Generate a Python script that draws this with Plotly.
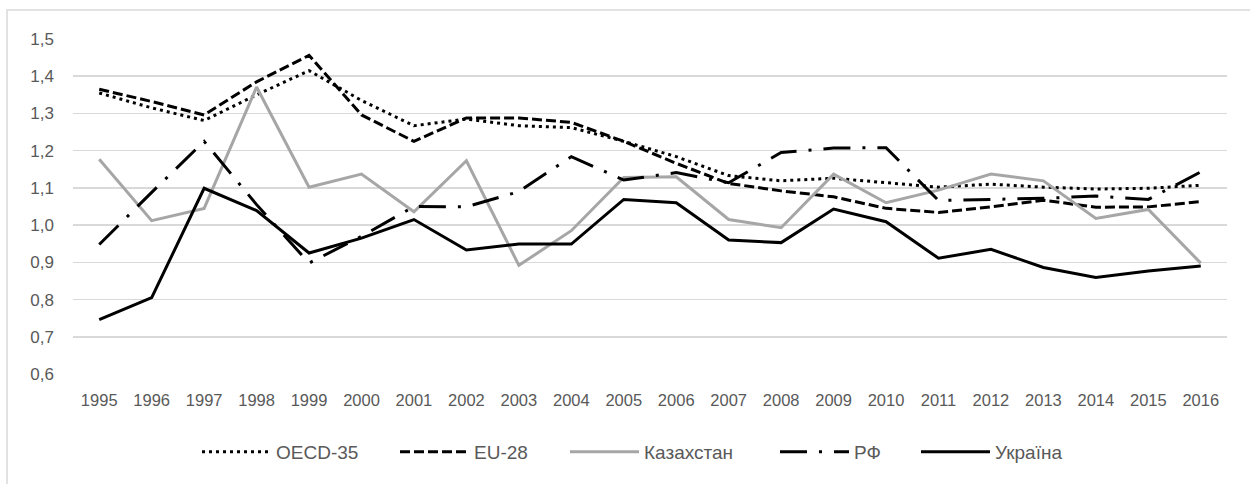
import plotly.graph_objects as go

years = list(range(1995, 2017))
oecd = [1.355, 1.315, 1.281, 1.350, 1.415, 1.335, 1.267, 1.285, 1.267, 1.262, 1.225,
        1.184, 1.133, 1.119, 1.126, 1.114, 1.102, 1.110, 1.102, 1.097, 1.099, 1.107]
eu = [1.365, 1.332, 1.296, 1.385, 1.456, 1.296, 1.225, 1.288, 1.288, 1.276, 1.225,
      1.166, 1.112, 1.092, 1.076, 1.045, 1.034, 1.049, 1.067, 1.048, 1.049, 1.063]
kaz = [1.177, 1.012, 1.045, 1.371, 1.102, 1.137, 1.036, 1.173, 0.892, 0.985, 1.128,
       1.130, 1.015, 0.993, 1.137, 1.060, 1.094, 1.137, 1.119, 1.018, 1.042, 0.898]
rf = [0.948, 1.088, 1.225, 1.055, 0.898, 0.970, 1.050, 1.049, 1.090, 1.184, 1.121,
      1.141, 1.114, 1.195, 1.207, 1.208, 1.066, 1.069, 1.072, 1.078, 1.069, 1.143]
ukr = [0.746, 0.805, 1.099, 1.039, 0.925, 0.965, 1.015, 0.933, 0.949, 0.949, 1.069,
       1.060, 0.960, 0.953, 1.043, 1.009, 0.911, 0.935, 0.886, 0.859, 0.877, 0.890]
y_ticks = [0.6, 0.7, 0.8, 0.9, 1.0, 1.1, 1.2, 1.3, 1.4, 1.5]

FONT = "Liberation Sans, Arial, sans-serif"
TXT = "#595959"

series = [
    ("OECD-35", oecd, "black", "3px,4px", 114),
    ("EU-28", eu, "black", "10px,4px", 86),
    ("Казахстан", kaz, "#a6a6a6", "solid", 126),
    ("РФ", rf, "black", "27px,12px,3px,12px", 57),
    ("Україна", ukr, "black", "solid", 80),
]

fig = go.Figure()
for name, vals, col, dash, lw in series:
    fig.add_trace(go.Scatter(
        x=years, y=vals, name=name, mode="lines",
        line=dict(color=col, width=3, dash=dash),
        legendwidth=lw,
    ))

W, H = 1250, 484
L, R, T, B = 73, 23, 39, 110
pw, ph = W - L - R, H - T - B

fig.update_layout(
    width=W, height=H,
    margin=dict(l=L, r=R, t=T, b=B, autoexpand=False),
    paper_bgcolor="white", plot_bgcolor="white",
    separators=", ",
    font=dict(family=FONT, size=17, color=TXT),
    showlegend=True,
    legend=dict(
        orientation="h", x=(197 - L) / pw, xanchor="left",
        y=-(452 - (T + ph)) / ph, yanchor="middle",
        itemwidth=69, font=dict(family=FONT, size=19, color=TXT),
        bgcolor="rgba(0,0,0,0)", borderwidth=0, tracegroupgap=0,
    ),
    xaxis=dict(
        range=[1994.5, 2016.5], tickmode="array", tickvals=years,
        ticktext=[str(y) for y in years], showgrid=False, zeroline=False,
        showline=False, ticks="", ticklabelstandoff=14,
        tickfont=dict(family=FONT, size=16.5, color=TXT), automargin=False,
    ),
    yaxis=dict(
        range=[0.6, 1.5], tickmode="array", tickvals=y_ticks, tickformat=".1f",
        showgrid=True, gridcolor="#d9d9d9", gridwidth=1.5, zeroline=False,
        showline=False, ticks="", ticklabelstandoff=18,
        tickfont=dict(family=FONT, size=17, color=TXT), automargin=False,
    ),
    shapes=[dict(
        type="rect", xref="paper", yref="paper",
        x0=(7 - L) / pw, x1=(1256 - L) / pw,
        y0=-(492 - (T + ph)) / ph, y1=(T + ph - 10) / ph,
        line=dict(color="#d9d9d9", width=1.5), fillcolor="rgba(0,0,0,0)",
        layer="below",
    )],
)

fig.write_html(
    "out.html",
    config={"displayModeBar": False, "staticPlot": True},
    post_script="document.body.style.margin='0';document.body.style.overflow='hidden';",
)
